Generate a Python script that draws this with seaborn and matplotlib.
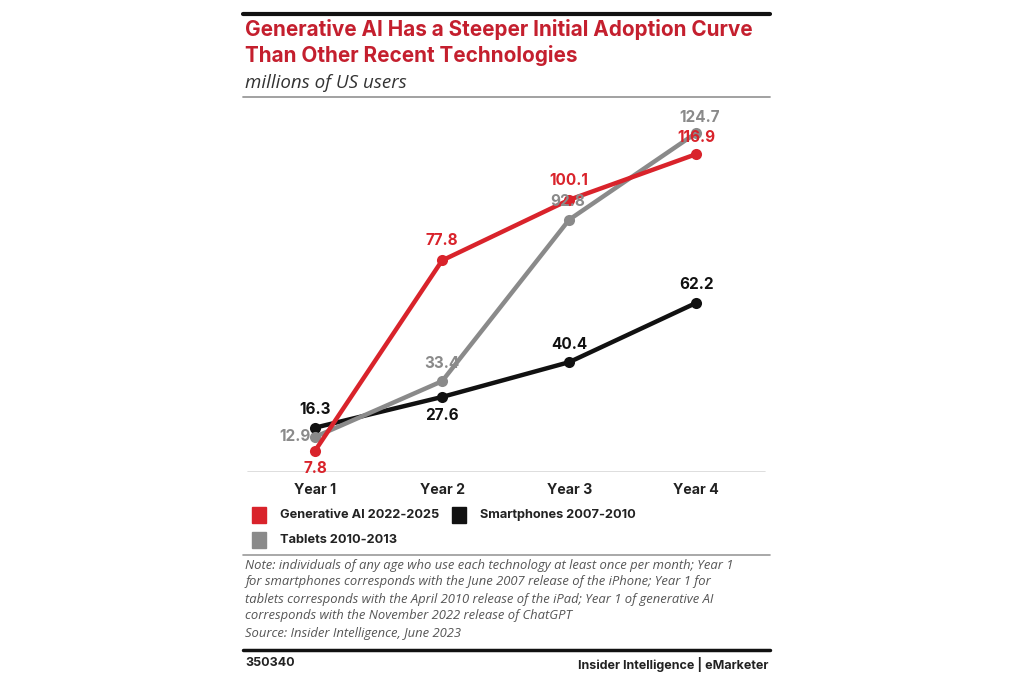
import matplotlib
matplotlib.use("Agg")
import matplotlib.pyplot as plt
import seaborn as sns
import pandas as pd
from matplotlib.patches import Rectangle
from matplotlib.lines import Line2D

years = ["Year 1", "Year 2", "Year 3", "Year 4"]
genai = [7.8, 77.8, 100.1, 116.9]
smartphones = [16.3, 27.6, 40.4, 62.2]
tablets = [12.9, 33.4, 92.8, 124.7]
series_names = ["Generative AI 2022-2025", "Smartphones 2007-2010", "Tablets 2010-2013"]

RED = "#d9232b"
BLACK = "#111111"
GRAY = "#8a8a8a"
TITLE_RED = "#c41f2e"

sns.set_theme(style="white")
plt.rcParams['font.family'] = ['Inter', 'DejaVu Sans']
ITAL = ['Open Sans', 'DejaVu Sans']

rows = []
for name, vals in zip(series_names, [genai, smartphones, tablets]):
    for i, v in enumerate(vals):
        rows.append({"pos": i, "year": years[i], "value": v, "series": name})
df = pd.DataFrame(rows)

W, H = 1024, 683
fig = plt.figure(figsize=(W / 100, H / 100), dpi=100)

def fx(px):
    return px / W

def fy(py):
    return 1 - py / H

ax = fig.add_axes([fx(243), fy(472), fx(770) - fx(243), fy(100) - fy(472)])
palette = {series_names[0]: RED, series_names[1]: BLACK, series_names[2]: GRAY}
order = [series_names[1], series_names[2], series_names[0]]
for name in order:
    sub = df[df["series"] == name]
    sns.lineplot(data=sub, x="pos", y="value", color=palette[name], lw=3.2,
                 marker="o", markersize=8, markeredgewidth=0, ax=ax, legend=False,
                 zorder=3 if name != series_names[0] else 4)

ax.set_xlim(-0.567, 3.58)
ax.set_ylim(0, 136.8)
for s in ax.spines.values():
    s.set_visible(False)
ax.axhline(0, color="#d8d8d8", lw=1.2, xmin=0.01, xmax=0.99, zorder=1)
ax.set_xticks(range(4))
ax.set_xticklabels(years, fontsize=10.2, fontweight="bold", color="#222222")
ax.tick_params(axis="x", length=0, pad=8)
ax.set_yticks([])
ax.set_xlabel("")
ax.set_ylabel("")

fs = 11

def lab(i, v, color, dx, dy, ha="center"):
    ax.annotate(f"{v}", (i, v), xytext=(dx, dy), textcoords="offset points",
                ha=ha, va="center", fontsize=fs, fontweight="bold", color=color, zorder=6)

red_off = [(0, -13), (0, 14), (0, 14), (0, 12)]
for i, v in enumerate(genai):
    lab(i, v, RED, *red_off[i])
gray_off = [None, (0, 13), (-1, 13), (2, 11)]
for i, v in enumerate(tablets):
    if i == 0:
        ax.annotate(f"{v}", (i, v), xytext=(-3, 0), textcoords="offset points",
                    ha="right", va="center", fontsize=fs, fontweight="bold", color=GRAY, zorder=6)
    else:
        lab(i, v, GRAY, *gray_off[i])
black_off = [(0, 13), (0, -13), (0, 13), (0, 13)]
for i, v in enumerate(smartphones):
    lab(i, v, BLACK, *black_off[i])

fig.add_artist(Line2D([fx(243), fx(770)], [fy(14), fy(14)], color="#111111", lw=3))
fig.text(fx(245), fy(30), "Generative AI Has a Steeper Initial Adoption Curve",
         fontsize=14.9, fontweight="bold", color=TITLE_RED, va="center", ha="left")
fig.text(fx(245), fy(55), "Than Other Recent Technologies",
         fontsize=14.9, fontweight="bold", color=TITLE_RED, va="center", ha="left")
fig.text(fx(245), fy(83), "millions of US users", fontsize=13.5, style="italic",
         family=ITAL, color="#333333", va="center", ha="left")
fig.add_artist(Line2D([fx(243), fx(770)], [fy(97), fy(97)], color="#9a9a9a", lw=1.3))

def leg(px, py, color, text):
    fig.add_artist(Rectangle((fx(px), fy(py + 8)), 14 / W, 16 / H, color=color, transform=fig.transFigure))
    fig.text(fx(px + 28), fy(py), text, fontsize=9.2, fontweight="bold", color="#222222",
             va="center", ha="left")

leg(252, 515, RED, series_names[0])
leg(452, 515, BLACK, series_names[1])
leg(252, 540, GRAY, series_names[2])

fig.add_artist(Line2D([fx(243), fx(770)], [fy(555), fy(555)], color="#9a9a9a", lw=1.2))
notes = ["Note: individuals of any age who use each technology at least once per month; Year 1",
         "for smartphones corresponds with the June 2007 release of the iPhone; Year 1 for",
         "tablets corresponds with the April 2010 release of the iPad; Year 1 of generative AI",
         "corresponds with the November 2022 release of ChatGPT",
         "Source: Insider Intelligence, June 2023"]
for k, line in enumerate(notes):
    fig.text(fx(245), fy(565 + k * 17), line, fontsize=9.35, style="italic", family=ITAL,
             color="#555555", va="center", ha="left")

fig.add_artist(Line2D([fx(243), fx(770)], [fy(650), fy(650)], color="#111111", lw=2.5))
fig.text(fx(245), fy(663), "350340", fontsize=9, fontweight="bold", color="#222222",
         va="center", ha="left")
fig.text(fx(768), fy(664), "Insider Intelligence | eMarketer", fontsize=9,
         fontweight="bold", color="#222222", va="center", ha="right")

fig.savefig("out.png", dpi=100, facecolor="white")
